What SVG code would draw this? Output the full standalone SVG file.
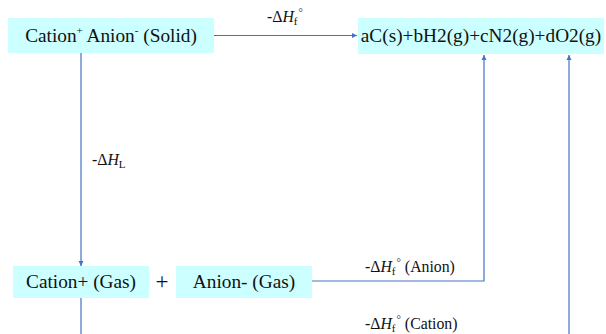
<svg xmlns="http://www.w3.org/2000/svg" width="606" height="334" viewBox="0 0 606 334">
<defs>
<marker id="ah" markerWidth="6" markerHeight="6" refX="5" refY="3" orient="auto" markerUnits="userSpaceOnUse">
<path d="M0,0.5 L5,3 L0,5.5 Z" fill="#4472C4"/>
</marker>
</defs>
<style>
.box{fill:#CCFFFF;stroke:none}
.t{font-family:"Liberation Serif","Times New Roman",serif;font-size:19.3px;fill:#111}
.l{font-family:"Liberation Serif","Times New Roman",serif;font-size:15.8px;fill:#111}
.sm{font-size:11px}
.c{fill:none;stroke:#4472C4;stroke-width:1.2}
</style>
<rect width="606" height="334" fill="#fff"/>
<g id="connectors">
<line class="c" x1="214" y1="35.5" x2="357" y2="35.5" marker-end="url(#ah)"/>
<line class="c" x1="81" y1="53" x2="81" y2="266" marker-end="url(#ah)"/>
<polyline class="c" points="312,281 484,281 484,55" marker-end="url(#ah)"/>
<line class="c" x1="81" y1="298" x2="81" y2="334"/>
<line class="c" x1="569" y1="334" x2="569" y2="55" marker-end="url(#ah)"/>
<text class="l" x="267" y="22">-Δ<tspan font-style="italic">H</tspan><tspan class="sm" dy="3">f</tspan><tspan class="sm" dx="1" dy="-9">°</tspan></text>
<text class="l" x="92" y="165">-Δ<tspan font-style="italic">H</tspan><tspan class="sm" dy="3">L</tspan></text>
<text class="l" x="365" y="272">-Δ<tspan font-style="italic">H</tspan><tspan class="sm" dy="3">f</tspan><tspan class="sm" dx="1" dy="-9">°</tspan><tspan dy="6"> (Anion)</tspan></text>
<text class="l" x="365" y="329">-Δ<tspan font-style="italic">H</tspan><tspan class="sm" dy="3">f</tspan><tspan class="sm" dx="1" dy="-9">°</tspan><tspan dy="6"> (Cation)</tspan></text>
</g>
<g id="solid">
<rect class="box" x="8" y="18" width="206" height="35"/>
<text class="t" x="111" y="42" text-anchor="middle">Cation<tspan class="sm" dy="-8">+</tspan><tspan dy="8"> Anion</tspan><tspan class="sm" dy="-8">-</tspan><tspan dy="8"> (Solid)</tspan></text>
</g>
<g id="elements">
<rect class="box" x="358" y="18" width="246" height="36"/>
<text class="t" x="481" y="42" text-anchor="middle">aC(s)+bH2(g)+cN2(g)+dO2(g)</text>
</g>
<g id="cation">
<rect class="box" x="13" y="266" width="136" height="32"/>
<text class="t" x="81" y="288" text-anchor="middle">Cation+ (Gas)</text>
</g>
<g id="plus">
<text class="t" x="162" y="289" text-anchor="middle" style="font-size:23px">+</text>
</g>
<g id="anion">
<rect class="box" x="176" y="266" width="136" height="32"/>
<text class="t" x="244" y="288" text-anchor="middle">Anion- (Gas)</text>
</g>
</svg>
